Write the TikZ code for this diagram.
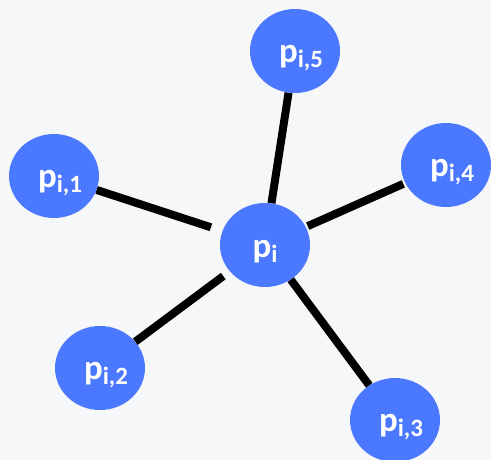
\documentclass[tikz,border=0pt]{standalone}
\usepackage{fontspec}
\setmainfont{Carlito}
\usetikzlibrary{shapes.geometric}
\definecolor{nodeblue}{RGB}{74,120,255}
\definecolor{bgcol}{RGB}{246,247,249}
\newcommand{\ptext}[2]{\raisebox{-7bp}[\height][\depth]{\hspace{#2}\fontsize{35}{36}\selectfont\bfseries p\raisebox{-5bp}{\fontsize{25}{26}\selectfont #1}}}
\tikzset{
  pnode/.style={ellipse, fill=nodeblue, minimum width=90bp, minimum height=84bp, inner sep=0pt, text=white},
  edge/.style={line width=8bp, black}
}
\begin{document}
\begin{tikzpicture}[x=1bp,y=-1bp]
\fill[bgcol] (0,0) rectangle (491,460);
\useasboundingbox (0,0) rectangle (491,460);
\node[pnode] (pi) at (265,245) {\ptext{i}{0bp}};
\node[pnode] (p5) at (295,51) {\ptext{i,5}{12bp}};
\node[pnode] (p4) at (446,165) {\ptext{i,4}{12bp}};
\node[pnode] (p1) at (54,176) {\ptext{i,1}{12bp}};
\node[pnode] (p2) at (100,368) {\ptext{i,2}{12bp}};
\node[pnode] (p3) at (395,420) {\ptext{i,3}{12bp}};
\draw[edge, shorten <=12bp] (pi) -- (p1);
\draw[edge, shorten <=8bp] (pi) -- (p2);
\draw[edge] (pi) -- (p3);
\draw[edge, shorten <=2bp, shorten >=2bp] (pi) -- (p4);
\draw[edge] (pi) -- (p5);
\end{tikzpicture}
\end{document}
